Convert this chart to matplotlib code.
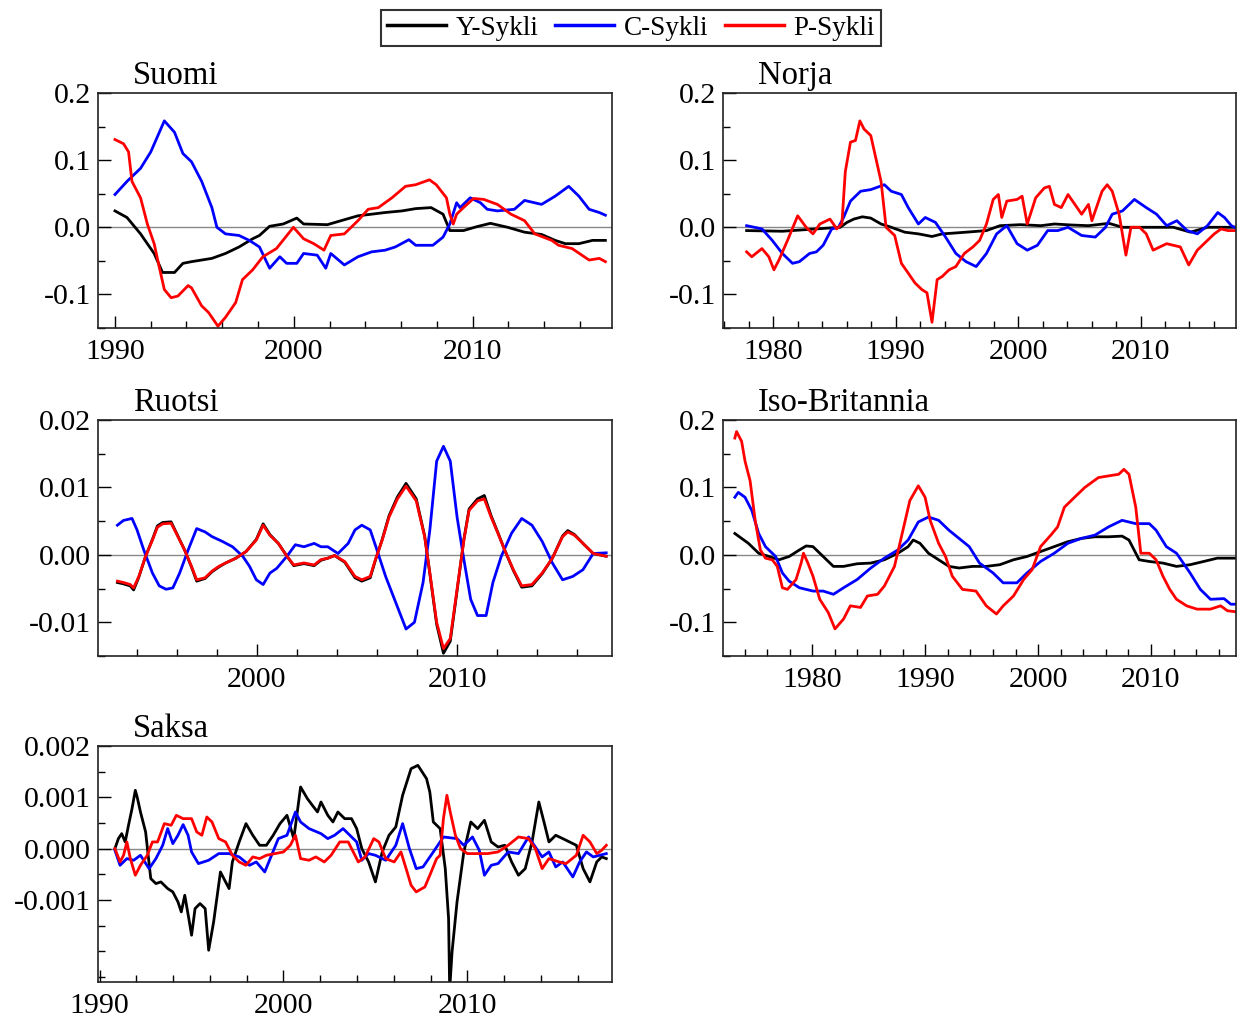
import matplotlib
matplotlib.use("Agg")
import matplotlib.pyplot as plt
from matplotlib.ticker import MultipleLocator, FormatStrFormatter, FixedLocator

plt.rcParams['font.family'] = ['Liberation Serif', 'DejaVu Serif']
plt.rcParams['axes.unicode_minus'] = False

# ---- Suomi ----
suomi_y_t = [1990.0, 1990.67, 1991.43, 1992.19, 1992.66, 1993.33, 1993.8, 1994.28, 1995.42, 1996.18,
             1996.94, 1997.7, 1998.08, 1998.65, 1999.41, 2000.17, 2000.55, 2001.88, 2002.64, 2003.59,
             2004.35, 2005.11, 2006.06, 2006.82, 2007.68, 2008.35, 2008.73, 2009.49, 2010.25, 2011.0,
             2011.96, 2012.91, 2013.86, 2014.62, 2015.19, 2015.95, 2016.71, 2017.43]
suomi_y = [0.0244, 0.0146, -0.0098, -0.039, -0.0673, -0.0673, -0.0537, -0.0512, -0.0463, -0.039,
           -0.0293, -0.0171, -0.0122, 0.0015, 0.0049, 0.0137, 0.0049, 0.0039, 0.0098, 0.0171,
           0.0195, 0.022, 0.0244, 0.0278, 0.0293, 0.0195, -0.0049, -0.0049, 0.001, 0.0059,
           0.0, -0.0073, -0.0107, -0.0195, -0.0244, -0.0244, -0.0195, -0.0195]

suomi_c_t = [1990.0, 1990.67, 1991.43, 1992.0, 1992.76, 1993.33, 1993.8, 1994.28, 1994.85, 1995.42,
             1995.7, 1996.18, 1996.94, 1997.51, 1998.08, 1998.65, 1999.22, 1999.6, 2000.17, 2000.55,
             2001.31, 2001.79, 2002.07, 2002.83, 2003.59, 2004.35, 2005.11, 2005.68, 2006.44, 2006.82,
             2007.78, 2008.35, 2008.73, 2009.11, 2009.3, 2009.87, 2010.44, 2010.82, 2011.39, 2012.34,
             2012.91, 2013.86, 2014.62, 2015.38, 2015.95, 2016.52, 2017.09, 2017.43]
suomi_c = [0.0488, 0.0683, 0.0878, 0.1122, 0.1585, 0.1415, 0.1098, 0.0976, 0.0683, 0.0293,
           0.0, -0.0098, -0.0122, -0.0195, -0.0293, -0.061, -0.0439, -0.0537, -0.0537, -0.039,
           -0.0415, -0.061, -0.039, -0.0561, -0.0439, -0.0366, -0.0341, -0.0293, -0.0185, -0.0268,
           -0.0268, -0.0146, 0.0049, 0.0366, 0.0293, 0.0439, 0.0366, 0.0268, 0.0244, 0.0268,
           0.04, 0.0341, 0.0463, 0.061, 0.0463, 0.0268, 0.022, 0.018]

suomi_p_t = [1990.0, 1990.48, 1990.76, 1990.95, 1991.43, 1991.81, 1992.19, 1992.47, 1992.76, 1993.14,
             1993.52, 1994.09, 1994.28, 1994.85, 1995.23, 1995.76, 1996.18, 1996.75, 1997.13, 1997.7,
             1998.27, 1999.03, 1999.98, 2000.55, 2001.12, 2001.69, 2002.07, 2002.83, 2003.59, 2004.16,
             2004.73, 2005.49, 2006.25, 2006.82, 2007.59, 2007.97, 2008.54, 2008.73, 2008.92, 2009.11,
             2009.49, 2010.06, 2010.63, 2011.39, 2012.15, 2012.91, 2013.48, 2014.43, 2014.81, 2015.57,
             2016.52, 2017.09, 2017.43]
suomi_p = [0.1307, 0.1244, 0.1122, 0.0683, 0.0439, 0.0049, -0.0244, -0.0585, -0.0927, -0.1049,
           -0.1024, -0.0868, -0.0902, -0.1171, -0.1268, -0.1473, -0.1341, -0.1122, -0.078, -0.0634,
           -0.0439, -0.0317, 0.0, -0.0171, -0.0244, -0.0341, -0.0122, -0.0098, 0.0098, 0.0268,
           0.0293, 0.0439, 0.061, 0.0634, 0.0707, 0.0634, 0.0439, 0.0195, 0.0049, 0.0195,
           0.0293, 0.0429, 0.0415, 0.0341, 0.0195, 0.0098, -0.0098, -0.0195, -0.0268, -0.0317,
           -0.0488, -0.0463, -0.0512]

# ---- Norja ----
norja_y_t = [1977.83, 1980.75, 1983.53, 1985.47, 1986.03, 1986.58, 1987.28, 1987.97, 1988.81, 1989.64,
             1990.75, 1991.86, 1992.97, 1993.81, 1994.64, 1995.75, 1997.42, 1998.53, 2000.19, 2001.86,
             2002.97, 2004.36, 2005.75, 2007.42, 2008.53, 2009.92, 2011.31, 2012.69, 2014.08, 2015.47,
             2017.69]
norja_y = [-0.0049, -0.0059, -0.0024, 0.0, 0.0073, 0.0122, 0.0156, 0.0137, 0.0049, 0.0,
           -0.0073, -0.0098, -0.0137, -0.0098, -0.0088, -0.0073, -0.0049, 0.0024, 0.0039, 0.0024,
           0.0049, 0.0034, 0.0024, 0.0059, 0.0, 0.0, 0.0, 0.0, -0.0073, 0.0,
           0.0]

norja_c_t = [1977.83, 1979.08, 1979.92, 1980.75, 1981.58, 1982.14, 1982.97, 1983.53, 1984.08, 1984.78,
             1985.33, 1985.75, 1986.31, 1987.14, 1987.97, 1989.08, 1989.64, 1990.47, 1991.03, 1991.86,
             1992.42, 1993.25, 1994.08, 1994.92, 1995.75, 1996.58, 1997.42, 1998.25, 1999.08, 1999.92,
             2000.75, 2001.58, 2002.42, 2003.25, 2004.08, 2005.19, 2006.31, 2007.14, 2007.69, 2008.53,
             2009.5, 2010.47, 2011.31, 2012.14, 2012.97, 2013.81, 2014.64, 2015.47, 2016.31, 2016.86,
             2017.42, 2017.69]
norja_c = [0.0024, -0.0024, -0.0195, -0.039, -0.0537, -0.0512, -0.039, -0.0366, -0.0268, -0.0024,
           0.0, 0.0146, 0.039, 0.0537, 0.0561, 0.0634, 0.0537, 0.0488, 0.0293, 0.0049,
           0.0146, 0.0073, -0.0146, -0.039, -0.0512, -0.0585, -0.039, -0.0098, 0.0024, -0.0244,
           -0.0341, -0.0268, -0.0049, -0.0049, 0.0, -0.0122, -0.0146, 0.0, 0.0195, 0.0244,
           0.0415, 0.0293, 0.0195, 0.0024, 0.0098, -0.0049, -0.0098, 0.0024, 0.022, 0.0146,
           0.0024, 0.0]

norja_p_t = [1977.83, 1978.25, 1979.08, 1979.64, 1980.06, 1980.47, 1981.17, 1982.0, 1982.69, 1983.25,
             1983.81, 1984.64, 1985.19, 1985.61, 1985.89, 1986.31, 1986.72, 1987.08, 1987.42, 1987.97,
             1988.39, 1988.81, 1989.22, 1989.92, 1990.47, 1991.03, 1991.58, 1992.14, 1992.56, 1992.97,
             1993.39, 1993.81, 1994.36, 1994.92, 1995.61, 1996.31, 1996.86, 1997.42, 1997.97, 1998.39,
             1998.67, 1999.08, 1999.92, 2000.33, 2000.75, 2001.44, 2002.14, 2002.56, 2002.97, 2003.53,
             2004.08, 2004.64, 2005.19, 2005.75, 2006.03, 2006.86, 2007.28, 2007.69, 2008.25, 2008.81,
             2009.22, 2009.92, 2010.47, 2011.03, 2012.14, 2013.25, 2013.94, 2014.64, 2015.47, 2016.03,
             2016.58, 2017.14, 2017.69]
norja_p = [-0.0366, -0.0439, -0.0317, -0.0439, -0.0634, -0.0488, -0.0195, 0.0171, 0.0, -0.0098,
           0.0049, 0.0122, -0.0024, 0.0049, 0.0829, 0.1268, 0.1293, 0.1585, 0.1463, 0.1366,
           0.1024, 0.0683, 0.0, -0.0122, -0.0537, -0.0683, -0.0829, -0.0927, -0.0976, -0.1415,
           -0.078, -0.0732, -0.0634, -0.0585, -0.039, -0.0293, -0.0195, 0.0049, 0.0415, 0.0488,
           0.0146, 0.039, 0.0415, 0.0463, 0.0049, 0.0439, 0.0585, 0.061, 0.0341, 0.0293,
           0.0488, 0.0341, 0.0195, 0.0341, 0.0098, 0.0537, 0.0634, 0.0537, 0.0195, -0.0415,
           0.0, 0.0, -0.0098, -0.0341, -0.0244, -0.0293, -0.0561, -0.0341, -0.0195, -0.0098,
           -0.0024, -0.0049, -0.0049]

# ---- Ruotsi ----
ruotsi_t = [1993.03, 1993.33, 1993.67, 1993.84, 1994.1, 1994.44, 1994.78, 1995.03, 1995.29, 1995.71,
            1995.97, 1996.39, 1996.73, 1996.99, 1997.41, 1997.76, 1998.1, 1998.44, 1998.95, 1999.46,
            1999.97, 2000.31, 2000.65, 2001.07, 2001.5, 2001.84, 2002.35, 2002.86, 2003.2, 2003.54,
            2003.88, 2004.39, 2004.9, 2005.24, 2005.66, 2005.92, 2006.26, 2006.6, 2007.02, 2007.45,
            2007.96, 2008.38, 2008.64, 2008.98, 2009.32, 2009.66, 2010.0, 2010.34, 2010.6, 2011.02,
            2011.36, 2011.7, 2012.04, 2012.38, 2012.81, 2013.23, 2013.74, 2014.25, 2014.76, 2015.27,
            2015.53, 2015.87, 2016.29, 2016.8, 2017.45]
ruotsi_y = [-0.0041, -0.0043, -0.0046, -0.0052, -0.0033, -0.0002, 0.0023, 0.0043, 0.0048, 0.0049,
            0.0033, 0.0007, -0.0018, -0.0039, -0.0035, -0.0025, -0.0018, -0.0012, -0.0005, 0.0005,
            0.0023, 0.0046, 0.003, 0.0017, -0.0002, -0.0016, -0.0013, -0.0016, -0.0008, -0.0005,
            -0.0001, -0.0011, -0.0034, -0.0039, -0.0034, -0.0008, 0.0023, 0.0058, 0.0086, 0.0106,
            0.0083, 0.0028, -0.0028, -0.0103, -0.0146, -0.0128, -0.0053, 0.0023, 0.0068, 0.0083,
            0.0088, 0.0058, 0.0033, 0.0007, -0.0023, -0.0048, -0.0046, -0.0028, -0.0005, 0.0028,
            0.0036, 0.003, 0.0017, 0.0002, -0.0002]
ruotsi_p = [-0.0039, -0.0041, -0.0044, -0.0049, -0.0032, -0.0002, 0.0022, 0.0041, 0.0046, 0.0047,
            0.0032, 0.0007, -0.0017, -0.0037, -0.0034, -0.0024, -0.0017, -0.0012, -0.0005, 0.0005,
            0.0022, 0.0044, 0.0029, 0.0017, -0.0002, -0.0015, -0.0012, -0.0015, -0.0007, -0.0005,
            -0.0001, -0.001, -0.0032, -0.0037, -0.0032, -0.0007, 0.0022, 0.0056, 0.0083, 0.0102,
            0.008, 0.0027, -0.0027, -0.01, -0.0139, -0.0124, -0.0051, 0.0022, 0.0066, 0.008,
            0.0083, 0.0056, 0.0032, 0.0007, -0.0022, -0.0046, -0.0044, -0.0027, -0.0005, 0.0027,
            0.0034, 0.0029, 0.0017, 0.0002, -0.0002]

ruotsi_c_t = [1993.03, 1993.33, 1993.76, 1994.01, 1994.35, 1994.78, 1995.12, 1995.46, 1995.8, 1996.14,
              1996.56, 1996.99, 1997.41, 1997.76, 1998.27, 1998.78, 1999.29, 1999.63, 1999.97, 2000.31,
              2000.65, 2000.99, 2001.5, 2001.92, 2002.35, 2002.86, 2003.2, 2003.54, 2004.05, 2004.56,
              2004.9, 2005.24, 2005.66, 2006.0, 2006.43, 2006.94, 2007.45, 2007.87, 2008.3, 2008.64,
              2008.98, 2009.32, 2009.66, 2010.0, 2010.34, 2010.68, 2011.02, 2011.45, 2011.79, 2012.21,
              2012.72, 2013.23, 2013.74, 2014.25, 2014.76, 2015.27, 2015.78, 2016.29, 2016.8, 2017.45]
ruotsi_c = [0.0044, 0.0051, 0.0054, 0.0037, 0.0007, -0.0027, -0.0046, -0.0051, -0.0049, -0.0027,
            0.0007, 0.0039, 0.0034, 0.0027, 0.002, 0.0012, -0.0002, -0.0017, -0.0037, -0.0044,
            -0.0027, -0.002, -0.0002, 0.0015, 0.0012, 0.0017, 0.0012, 0.0012, 0.0002, 0.0017,
            0.0037, 0.0044, 0.0037, 0.0007, -0.0032, -0.0071, -0.011, -0.01, -0.0041, 0.0037,
            0.0139, 0.0161, 0.0139, 0.0056, -0.0007, -0.0066, -0.009, -0.009, -0.0041, -0.0002,
            0.0032, 0.0054, 0.0044, 0.002, -0.0012, -0.0037, -0.0032, -0.0022, 0.0002, 0.0003]

# ---- Iso-Britannia ----
uk_y_t = [1973.14, 1973.74, 1974.34, 1975.25, 1976.15, 1977.05, 1977.95, 1978.86, 1979.46, 1980.06,
          1980.96, 1981.87, 1982.77, 1983.97, 1985.18, 1986.38, 1987.58, 1988.49, 1988.94, 1989.54,
          1990.29, 1991.19, 1992.1, 1993.0, 1994.2, 1995.41, 1996.61, 1997.82, 1999.02, 2000.22,
          2001.43, 2002.63, 2003.83, 2005.04, 2006.24, 2007.44, 2008.05, 2008.95, 2009.85, 2011.06,
          2012.26, 2013.46, 2014.67, 2015.87, 2017.53]
uk_y = [0.0317, 0.0244, 0.0171, 0.0024, -0.0024, -0.0073, -0.0024, 0.0073, 0.0132, 0.0122,
        -0.0024, -0.0171, -0.0171, -0.0132, -0.0122, -0.0073, 0.0024, 0.0122, 0.022, 0.0171,
        0.0024, -0.0073, -0.0171, -0.0195, -0.0171, -0.0171, -0.0146, -0.0073, -0.0024, 0.0049,
        0.0122, 0.0195, 0.0244, 0.0268, 0.0268, 0.0278, 0.022, -0.0073, -0.0098, -0.0122,
        -0.0171, -0.0146, -0.0098, -0.0049, -0.0049]

uk_c_t = [1973.14, 1973.44, 1974.04, 1974.64, 1975.25, 1975.85, 1976.75, 1977.35, 1977.95, 1978.86,
          1980.06, 1980.96, 1981.87, 1982.77, 1983.97, 1985.18, 1986.38, 1987.58, 1988.49, 1989.39,
          1990.29, 1991.19, 1992.1, 1993.0, 1993.9, 1994.81, 1996.01, 1996.91, 1998.12, 1999.02,
          2000.22, 2001.43, 2002.63, 2003.83, 2005.04, 2006.24, 2007.44, 2008.65, 2009.85, 2010.45,
          2011.36, 2012.26, 2013.46, 2014.37, 2015.27, 2016.47, 2017.07, 2017.53]
uk_c = [0.0854, 0.0927, 0.0854, 0.0659, 0.0317, 0.0122, -0.0024, -0.0268, -0.039, -0.0488,
        -0.0537, -0.0537, -0.0585, -0.0488, -0.0366, -0.0195, -0.0049, 0.0073, 0.022, 0.0488,
        0.0561, 0.0512, 0.0366, 0.0244, 0.0122, -0.0122, -0.0268, -0.0415, -0.0415, -0.0268,
        -0.0098, 0.0024, 0.0171, 0.0244, 0.0293, 0.0415, 0.0512, 0.0463, 0.0463, 0.0366,
        0.0122, 0.0024, -0.0268, -0.0512, -0.0659, -0.0649, -0.0732, -0.0732]

uk_p_t = [1973.14, 1973.29, 1973.74, 1974.04, 1974.49, 1974.94, 1975.4, 1975.85, 1976.45, 1976.9,
          1977.35, 1977.8, 1978.56, 1979.01, 1979.22, 1979.61, 1980.06, 1980.66, 1981.41, 1982.01,
          1982.77, 1983.37, 1984.27, 1984.88, 1985.78, 1986.38, 1987.28, 1988.03, 1988.64, 1989.39,
          1989.99, 1990.44, 1991.19, 1991.8, 1992.4, 1993.3, 1994.5, 1995.41, 1996.31, 1996.91,
          1997.82, 1998.72, 1999.47, 2000.22, 2001.13, 2001.73, 2002.33, 2003.23, 2004.14, 2004.74,
          2005.34, 2006.24, 2007.14, 2007.6, 2008.05, 2008.65, 2009.1, 2009.85, 2010.45, 2011.06,
          2011.66, 2012.26, 2013.16, 2014.07, 2015.27, 2016.17, 2016.77, 2017.53]
uk_p = [0.1732, 0.1829, 0.1683, 0.139, 0.1098, 0.0512, 0.0073, -0.0049, -0.0073, -0.0171,
        -0.0488, -0.0512, -0.0366, -0.0122, 0.0024, -0.0122, -0.0317, -0.0659, -0.0854, -0.1098,
        -0.0951, -0.0756, -0.078, -0.061, -0.0585, -0.0463, -0.0171, 0.0366, 0.0805, 0.1024,
        0.0854, 0.0512, 0.0171, -0.0024, -0.0317, -0.0512, -0.0537, -0.0756, -0.0878, -0.0756,
        -0.061, -0.0366, -0.022, 0.0122, 0.0293, 0.0415, 0.0707, 0.0854, 0.1, 0.1073,
        0.1146, 0.1171, 0.1195, 0.1268, 0.1195, 0.0707, 0.0024, 0.0024, -0.0073, -0.0317,
        -0.0512, -0.0659, -0.0756, -0.0805, -0.0805, -0.0756, -0.0829, -0.0844]

# ---- Saksa (values in units of 0.001) ----
saksa_y_t = [1990.83, 1991.02, 1991.2, 1991.39, 1991.57, 1991.76, 1991.94, 1992.04, 1992.22, 1992.5,
             1992.78, 1993.06, 1993.33, 1993.7, 1993.98, 1994.26, 1994.44, 1994.63, 1994.85, 1995.0,
             1995.19, 1995.46, 1995.74, 1995.93, 1996.2, 1996.57, 1996.85, 1997.04, 1997.22, 1997.59,
             1997.96, 1998.33, 1998.7, 1999.07, 1999.44, 1999.81, 2000.19, 2000.56, 2000.93, 2001.3,
             2001.57, 2001.85, 2002.04, 2002.41, 2002.69, 2002.96, 2003.33, 2003.7, 2003.98, 2004.26,
             2004.63, 2005.0, 2005.37, 2005.74, 2006.11, 2006.48, 2006.94, 2007.31, 2007.78, 2007.96,
             2008.15, 2008.52, 2008.8, 2008.98, 2009.04, 2009.17, 2009.44, 2009.81, 2010.19, 2010.56,
             2010.93, 2011.3, 2011.67, 2012.04, 2012.41, 2012.78, 2013.15, 2013.52, 2013.89, 2014.17,
             2014.44, 2014.81, 2015.19, 2015.56, 2015.93, 2016.3, 2016.67, 2017.04, 2017.31, 2017.56]
saksa_y = [0.0, 0.195, 0.292, 0.13, 0.455, 0.779, 1.136, 1.006, 0.714, 0.325,
           -0.584, -0.682, -0.649, -0.779, -0.844, -1.039, -1.234, -0.909, -1.364, -1.688,
           -1.169, -1.071, -1.169, -1.981, -1.429, -0.455, -0.649, -0.779, -0.26, 0.13,
           0.487, 0.26, 0.065, 0.065, 0.26, 0.487, 0.649, 0.195, 1.201, 0.974,
           0.844, 0.714, 0.909, 0.649, 0.519, 0.714, 0.584, 0.584, 0.39, 0.0,
           -0.26, -0.649, -0.065, 0.26, 0.422, 1.039, 1.558, 1.623, 1.364, 1.104,
           0.519, 0.39, -0.39, -1.364, -2.75, -2.013, -1.039, -0.065, 0.519, 0.39,
           0.552, 0.13, 0.032, 0.065, -0.26, -0.519, -0.39, 0.13, 0.909, 0.519,
           0.13, 0.26, 0.195, 0.13, 0.065, -0.39, -0.649, -0.26, -0.162, -0.195]

saksa_c_t = [1990.83, 1991.11, 1991.48, 1991.85, 1992.22, 1992.69, 1993.06, 1993.43, 1993.7, 1993.98,
             1994.26, 1994.54, 1994.81, 1995.0, 1995.37, 1995.93, 1996.48, 1997.04, 1997.59, 1998.15,
             1998.52, 1998.98, 1999.35, 1999.72, 2000.19, 2000.65, 2000.93, 2001.39, 2002.04, 2002.41,
             2002.78, 2003.24, 2003.61, 2003.98, 2004.26, 2004.63, 2005.0, 2005.56, 2006.11, 2006.48,
             2006.85, 2007.22, 2007.59, 2008.15, 2008.7, 2009.44, 2009.81, 2010.28, 2010.65, 2010.93,
             2011.3, 2011.67, 2012.22, 2012.78, 2013.33, 2013.7, 2014.07, 2014.44, 2014.81, 2015.19,
             2015.74, 2016.11, 2016.48, 2016.85, 2017.56]
saksa_c = [-0.032, -0.325, -0.195, -0.227, -0.13, -0.39, -0.195, 0.065, 0.39, 0.097,
           0.26, 0.468, 0.26, -0.065, -0.292, -0.227, -0.097, -0.097, -0.162, -0.325,
           -0.26, -0.455, -0.13, 0.195, 0.26, 0.714, 0.519, 0.39, 0.292, 0.195,
           0.26, 0.39, 0.26, 0.13, -0.227, -0.097, -0.13, -0.227, 0.065, 0.487,
           0.0, -0.39, -0.357, -0.065, 0.227, 0.195, 0.065, 0.227, -0.032, -0.519,
           -0.325, -0.292, -0.065, -0.097, 0.227, 0.032, -0.162, -0.065, -0.357, -0.26,
           -0.552, -0.26, -0.065, -0.162, -0.097]

saksa_p_t = [1990.83, 1991.11, 1991.3, 1991.48, 1991.67, 1991.94, 1992.22, 1992.59, 1992.87, 1993.15,
             1993.52, 1993.89, 1994.17, 1994.54, 1995.0, 1995.28, 1995.56, 1995.83, 1996.11, 1996.48,
             1996.85, 1997.22, 1997.59, 1997.96, 1998.33, 1998.7, 1999.07, 1999.54, 2000.0, 2000.37,
             2000.65, 2000.93, 2001.39, 2001.76, 2002.22, 2002.59, 2003.06, 2003.52, 2004.07, 2004.44,
             2004.91, 2005.19, 2005.56, 2006.02, 2006.39, 2006.67, 2006.94, 2007.22, 2007.69, 2007.96,
             2008.33, 2008.52, 2008.7, 2008.89, 2009.07, 2009.35, 2009.63, 2010.0, 2010.56, 2011.11,
             2011.67, 2012.22, 2012.78, 2013.33, 2013.7, 2014.07, 2014.44, 2015.0, 2015.37, 2015.93,
             2016.3, 2016.67, 2017.04, 2017.31, 2017.56]
saksa_p = [0.0, -0.26, -0.13, 0.13, -0.195, -0.519, -0.325, -0.13, 0.13, 0.13,
           0.487, 0.455, 0.649, 0.584, 0.584, 0.325, 0.26, 0.617, 0.519, 0.195,
           0.13, -0.13, -0.26, -0.325, -0.162, -0.195, -0.13, -0.097, -0.065, 0.065,
           0.26, -0.195, -0.227, -0.162, -0.26, -0.13, 0.13, 0.13, -0.26, -0.162,
           0.195, 0.13, -0.195, -0.26, -0.065, -0.39, -0.714, -0.844, -0.747, -0.519,
           -0.195, -0.13, 0.584, 1.039, 0.714, 0.26, 0.0, -0.097, -0.097, -0.097,
           -0.065, 0.065, 0.227, 0.195, 0.0, -0.39, -0.195, -0.26, -0.292, -0.13,
           0.26, 0.13, -0.097, -0.032, 0.065]
saksa_y = [v * 1e-3 for v in saksa_y]
saksa_c = [v * 1e-3 for v in saksa_c]
saksa_p = [v * 1e-3 for v in saksa_p]

FS = 21.5
TITLE_FS = 23.5
LW = 2.0

fig = plt.figure(figsize=(12.42, 10.18), dpi=100)
W, H = 1242.0, 1018.0


def panel(left, top, right, bottom, title, series, xlim, ylim, xmajor, ymajor, yminor, yfmt,
          ymajor_list=None):
    ax = fig.add_axes([left / W, 1 - bottom / H, (right - left) / W, (bottom - top) / H])
    ax.axhline(0, color='#888888', lw=1.0, zorder=1)
    for t, v, c in series:
        ax.plot(t, v, color=c, lw=LW, zorder=2)
    ax.set_xlim(*xlim)
    ax.set_ylim(*ylim)
    ax.xaxis.set_major_locator(FixedLocator(xmajor))
    ax.xaxis.set_minor_locator(MultipleLocator(2))
    if ymajor_list is not None:
        ax.yaxis.set_major_locator(FixedLocator(ymajor_list))
    else:
        ax.yaxis.set_major_locator(MultipleLocator(ymajor))
    ax.yaxis.set_minor_locator(MultipleLocator(yminor))
    ax.yaxis.set_major_formatter(FormatStrFormatter(yfmt))
    ax.tick_params(which='both', direction='in', top=False, right=False, labelsize=FS)
    ax.tick_params(which='major', length=9, width=1.0, pad=5)
    ax.tick_params(axis='x', which='major', pad=8)
    ax.tick_params(which='minor', length=5, width=1.0)
    for s in ax.spines.values():
        s.set_linewidth(1.2)
        s.set_color('#222222')
    h = bottom - top
    ax.text(35.0 / (right - left), 1 + 9.0 / h, title, transform=ax.transAxes,
            fontsize=TITLE_FS, ha='left', va='baseline')
    return ax


panel(98, 93, 612, 328, 'Suomi',
      [(suomi_y_t, suomi_y, 'black'), (suomi_c_t, suomi_c, 'blue'), (suomi_p_t, suomi_p, 'red')],
      (1989.05, 2017.8), (-0.15, 0.2), [1990, 2000, 2010], 0.1, 0.05, '%.1f')

panel(723, 93, 1236, 328, 'Norja',
      [(norja_y_t, norja_y, 'black'), (norja_c_t, norja_c, 'blue'), (norja_p_t, norja_p, 'red')],
      (1975.9, 2017.8), (-0.15, 0.2), [1980, 1990, 2000, 2010], 0.1, 0.05, '%.1f')

panel(98, 420, 612, 656, 'Ruotsi',
      [(ruotsi_t, ruotsi_y, 'black'), (ruotsi_c_t, ruotsi_c, 'blue'), (ruotsi_t, ruotsi_p, 'red')],
      (1992.06, 2017.74), (-0.015, 0.02), [2000, 2010], 0.01, 0.005, '%.2f')

panel(723, 420, 1236, 656, 'Iso-Britannia',
      [(uk_y_t, uk_y, 'black'), (uk_c_t, uk_c, 'blue'), (uk_p_t, uk_p, 'red')],
      (1972.09, 2017.53), (-0.15, 0.2), [1980, 1990, 2000, 2010], 0.1, 0.05, '%.1f')

panel(98, 746, 612, 982, 'Saksa',
      [(saksa_y_t, saksa_y, 'black'), (saksa_c_t, saksa_c, 'blue'), (saksa_p_t, saksa_p, 'red')],
      (1989.91, 2017.87), (-0.0026, 0.002), [1990, 2000, 2010], 0.001, 0.0005, '%.3f',
      ymajor_list=[-0.001, 0.0, 0.001, 0.002])

handles = [plt.Line2D([], [], color=c, lw=2.5) for c in ('black', 'blue', 'red')]
leg = fig.legend(handles, ['Y-Sykli', 'C-Sykli', 'P-Sykli'], loc='upper center',
                 bbox_to_anchor=(0.508, 0.990), ncol=3, fontsize=19.5, frameon=True,
                 fancybox=False, handlelength=2.2, handletextpad=0.35, columnspacing=0.6,
                 borderpad=0.2, borderaxespad=0.0)
leg.get_frame().set_edgecolor('black')
leg.get_frame().set_linewidth(1.5)

fig.savefig('out.png', dpi=100)
